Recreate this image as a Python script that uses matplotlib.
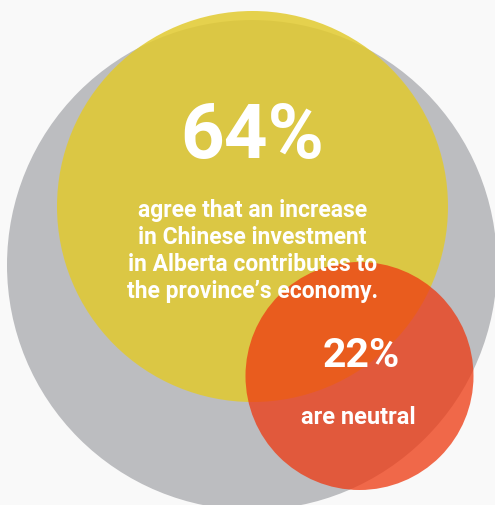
import matplotlib
matplotlib.use("Agg")
import matplotlib.pyplot as plt
from matplotlib.patches import Circle

# Data
percent_values = [64, 22]
percent_labels = ["64%", "22%"]
captions = [
    "agree that an increase\nin Chinese investment\nin Alberta contributes to\nthe province\u2019s economy.",
    "are neutral",
]

# Layout (pixel coordinates)
gray_circle = (252, 266, 245)
yellow_circle = (252.5, 207.5, 195.5)
red_circle = (359.5, 377, 114)

W, H = 495, 506
fig = plt.figure(figsize=(W / 100, H / 100), dpi=100, facecolor="#f9f9f9")
ax = fig.add_axes([0, 0, 1, 1])
ax.set_xlim(0, W)
ax.set_ylim(H, 0)
ax.set_aspect("auto")
ax.axis("off")

ax.add_patch(Circle(gray_circle[:2], gray_circle[2], color="#bcbdc0", lw=0, zorder=1))
ax.add_patch(Circle(yellow_circle[:2], yellow_circle[2], color="#e2ca2c", alpha=0.84, lw=0, zorder=2))
ax.add_patch(Circle(red_circle[:2], red_circle[2], color="#ee3a12", alpha=0.76, lw=0, zorder=3))

font = ["Roboto", "DejaVu Sans"]
ax.text(252.5, 137, percent_labels[0], ha="center", va="center", color="white",
        fontsize=55, fontweight="bold", family=font, zorder=5)
ax.text(252.5, 251, captions[0], ha="center", va="center", color="white",
        fontsize=16.5, fontweight="bold", family=font, linespacing=1.22, zorder=5)
ax.text(361, 356, percent_labels[1], ha="center", va="center", color="white",
        fontsize=29.5, fontweight="bold", family=font, zorder=5)
ax.text(358, 418, captions[1], ha="center", va="center", color="white",
        fontsize=17, fontweight="bold", family=font, zorder=5)

fig.savefig("out.png", dpi=100, facecolor=fig.get_facecolor())
